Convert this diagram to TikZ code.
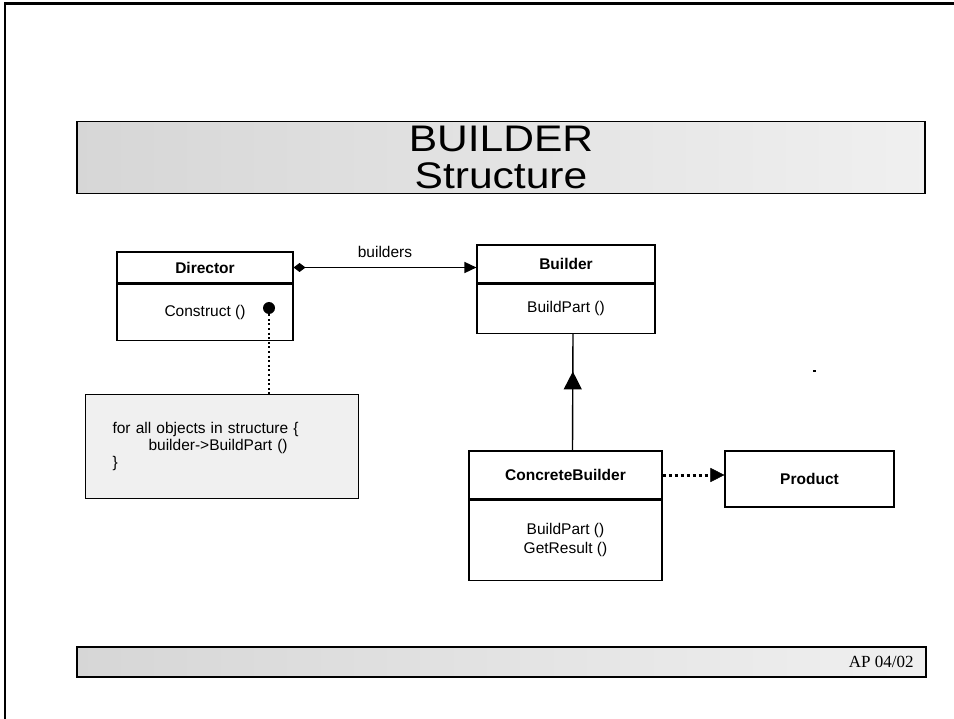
\documentclass[tikz,border=0pt]{standalone}
\usepackage{fontspec}
\setmainfont{Liberation Sans}
\newfontfamily\timesfont{Liberation Serif}
\usetikzlibrary{arrows.meta,decorations.markings,calc}
\begin{document}
\begin{tikzpicture}[x=1pt,y=-1pt,
  box/.style={draw=black, line width=1.1pt, fill=white, inner sep=0pt},
  bodytext/.style={font=\fontsize{15.5}{19}\selectfont},
  headtext/.style={font=\fontsize{15.5}{19}\selectfont\bfseries},
  band/.style={draw=black, line width=1.4pt, left color=black!16, right color=black!6, inner sep=0pt},
  notebox/.style={draw=black, line width=1.1pt, fill=black!6},
  link/.style={line width=1.4pt},
]
\useasboundingbox (0,0) rectangle (954,719);
\fill[white] (0,0) rectangle (954,719);
% slide frame (top and left edges)
\draw[line width=2.2pt] (5,719) -- (5,3.5) -- (954,3.5);

% title band
\node[band, minimum width=848pt, minimum height=72pt, align=center,
      font=\fontsize{37}{37}\selectfont] (title) at (501,157.5)
      {\scalebox{1.15}[1]{BUILDER}\\\scalebox{1.15}[1]{Structure}};

% Director
\node[box, headtext, minimum width=176pt, minimum height=31pt] (dirh) at (205,267.5) {Director};
\node[box, bodytext, minimum width=176pt, minimum height=56pt, anchor=north] (dirb) at (dirh.south) {Construct ()};
\node[circle, fill=black, minimum size=12pt, inner sep=0pt] (dot) at (269,308) {};

% note
\node[notebox, font=\fontsize{15.5}{17}\selectfont, align=left, text width=219pt,
      inner xsep=27pt, minimum height=104pt, anchor=north west] (note) at (85,394)
      {for all objects in structure \{\\\hspace*{36pt}builder->BuildPart ()\\\}};
\draw[line width=2pt, dash pattern=on 2pt off 2.6pt] (dot.south) -- (dot |- note.north);

% Builder
\node[box, headtext, minimum width=178pt, minimum height=38pt] (bh) at (566,264) {Builder};
\node[box, bodytext, minimum width=178pt, minimum height=49pt, anchor=north] (bb) at (bh.south) {BuildPart ()};

% association
\draw[link, {Diamond[length=12pt,width=9pt]}-{Triangle[length=12pt,width=11pt]}]
  (dirh.east) -- (bh.west |- dirh.east) node[midway, above=6pt, bodytext] (lbl) {builders};

% ConcreteBuilder
\node[box, headtext, minimum width=193pt, minimum height=48pt] (cbh) at (565.5,475) {ConcreteBuilder};
\node[box, bodytext, minimum width=193pt, minimum height=80pt, anchor=north, align=center] (cbb) at (cbh.south) {BuildPart ()\\GetResult ()};

% Product
\node[box, headtext, minimum width=169pt, minimum height=56pt] (prod) at (809.5,479) {Product};

% inheritance
\draw[link, postaction={decorate},
  decoration={markings, mark=at position 79pt with {\arrow{Triangle[length=18pt,width=18pt]}}}]
  ([xshift=7pt]cbh.north) -- ([xshift=7pt]bb.south);

% dependency
\draw[line width=3pt, dash pattern=on 3pt off 3pt, -{Triangle[length=14pt,width=14pt,line width=0.4pt]}]
  (cbh.east) -- (prod.west |- cbh.east);

% stray mark
\fill (813,370.5) rectangle (816,372);

% footer band
\node[band, minimum width=849pt, minimum height=30pt] (foot) at (501.5,662) {};
\node[anchor=east, inner sep=0pt, font=\timesfont\fontsize{17}{20}\selectfont] (date) at ([xshift=-13pt]foot.east) {AP 04/02};
\end{tikzpicture}
\end{document}
